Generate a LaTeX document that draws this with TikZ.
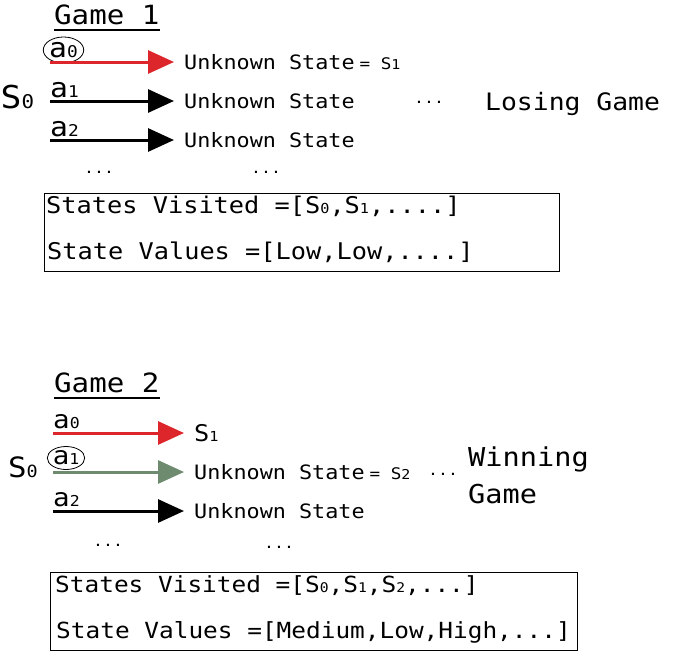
\documentclass[tikz,border=0pt]{standalone}
\usepackage{fontspec}
\usepackage{graphicx}
\usetikzlibrary{arrows.meta,shapes.geometric,positioning}
\newfontfamily\cons[FakeStretch=1.1]{DejaVu Sans Mono}
\newcommand{\fs}[1]{\cons\fontsize{#1}{#1}\selectfont}
\newcommand{\lo}[1]{\scalebox{0.6}{#1}}
\definecolor{actred}{RGB}{220,38,44}
\definecolor{actgreen}{RGB}{110,139,111}

\begin{document}
\begin{tikzpicture}[x=1pt,y=-1pt,
   lbl/.style={inner sep=0pt, anchor=base west},
   stt/.style={inner sep=0pt, anchor=west, font=\fs{19.8}},
   act/.style={line width=3pt, -{Triangle[length=26pt,width=23pt]}, shorten >=10pt},
   pick/.style={draw, ellipse, inner sep=0pt, line width=0.8pt},
   panel/.style={draw, line width=1.4pt, inner sep=0pt, anchor=north west}]
  \useasboundingbox (0,0) rectangle (681,672);
  % game 1
  \node[lbl, font=\fs{26.5}] (g1) at (54,24) {Game 1};
  \draw[line width=2pt] ([yshift=-5pt]g1.south west) -- ([yshift=-5pt]g1.south east);
  \node[lbl, font=\fs{31.5}] (g1s) at (0.5,108) {S\lo{0}};
  \node[pick, font=\fs{27}, minimum width=39pt, minimum height=26pt] (g1l0) at (63.5,50) {a\lo{0}};
  \node[lbl, font=\fs{27}] (g1l1) at (50,97) {a\lo{1}};
  \node[lbl, font=\fs{27}] (g1l2) at (50,136) {a\lo{2}};
  \coordinate (g1a0) at (50,62);
  \coordinate (g1a1) at (50,101);
  \coordinate (g1a2) at (50,140);
  \node[stt] (g1u0) at (184,62) {Unknown State{\fs{16}\hspace{5pt}= S\scalebox{0.85}{1}}};
  \node[stt] (g1u1) at (184,101) {Unknown State};
  \node[stt] (g1u2) at (184,140) {Unknown State};
  \draw[act, actred] (g1a0) -- (g1u0.west);
  \draw[act] (g1a1) -- (g1u1.west);
  \draw[act] (g1a2) -- (g1u2.west);
  \node[lbl, font=\fs{15}] (g1d0) at (84,173) {...};
  \node[lbl, font=\fs{15}] (g1d1) at (251,173) {...};
  \node[lbl, font=\fs{15}] (g1d2) at (414,103) {...};
  \node[lbl, font=\fs{24}] (lose) at (485,110) {Losing Game};
  \node[panel, minimum width=515pt, minimum height=78pt] (v1) at (44,193) {};
  \node[lbl, font=\fs{23}] (v1a) at (46,213) {States Visited =[S\lo{0},S\lo{1},....]};
  \node[lbl, font=\fs{23}] (v1b) at (47,259) {State Values =[Low,Low,....]};
  % game 2
  \node[lbl, font=\fs{26.5}] (g2) at (54,392) {Game 2};
  \draw[line width=2pt] ([yshift=-5pt]g2.south west) -- ([yshift=-5pt]g2.south east);
  \node[lbl, font=\fs{28}] (g2s) at (8,477) {S\lo{0}};
  \node[lbl, font=\fs{25}] (g2l0) at (53,428) {a\lo{0}};
  \node[pick, font=\fs{25}, minimum width=35pt, minimum height=23pt] (g2l1) at (66,458) {a\lo{1}};
  \node[lbl, font=\fs{25}] (g2l2) at (53,506) {a\lo{2}};
  \coordinate (g2a0) at (53,433);
  \coordinate (g2a1) at (53,472);
  \coordinate (g2a2) at (53,511);
  \node[stt, font=\fs{23}] (g2u0) at (194,433) {S\lo{1}};
  \node[stt] (g2u1) at (194,472) {Unknown State{\fs{16}\hspace{5pt}= S\scalebox{0.85}{2}}};
  \node[stt] (g2u2) at (194,511) {Unknown State};
  \draw[act, actred] (g2a0) -- (g2a0 -| g2u0.west);
  \draw[act, actgreen] (g2a1) -- (g2u1.west);
  \draw[act] (g2a2) -- (g2u2.west);
  \node[lbl, font=\fs{15}] (g2d0) at (93,546) {...};
  \node[lbl, font=\fs{15}] (g2d1) at (264,548) {...};
  \node[lbl, font=\fs{15}] (g2d2) at (428,475) {...};
  \node[lbl, font=\fs{26}] (win) at (468,466) {Winning};
  \node[lbl, font=\fs{26}] (wgame) at (468,503) {Game};
  \node[panel, minimum width=527pt, minimum height=78pt] (v2) at (50,572) {};
  \node[lbl, font=\fs{22.2}] (v2a) at (55,592) {States Visited =[S\lo{0},S\lo{1},S\lo{2},...]};
  \node[lbl, font=\fs{22.2}] (v2b) at (56,638) {State Values =[Medium,Low,High,...]};
\end{tikzpicture}
\end{document}
